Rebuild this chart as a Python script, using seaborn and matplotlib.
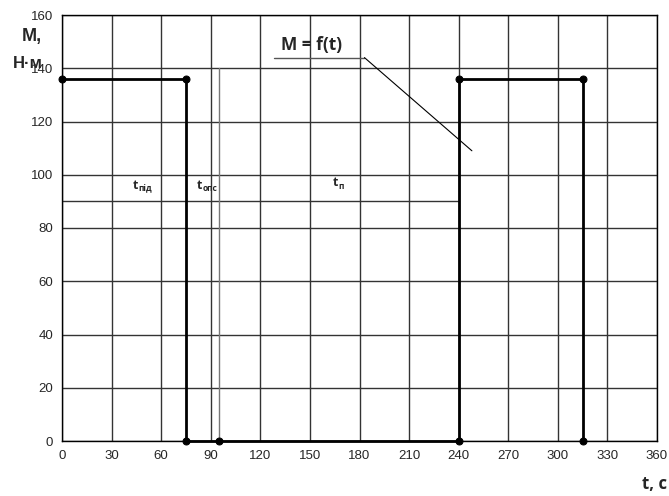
import matplotlib
matplotlib.use("Agg")
import matplotlib.pyplot as plt
import seaborn as sns
import pandas as pd

# load diagram M = f(t)
t_points = [0, 75, 75, 95, 240, 240, 315, 315]
m_points = [136, 136, 0, 0, 0, 136, 136, 0]

x_ticks = list(range(0, 361, 30))
y_ticks = list(range(0, 161, 20))

# helper lines of the drawing
dim_line_t = [0, 240]
dim_line_m = [90, 90]
mark_line_t = [95, 95]
mark_line_m = [0, 140]
leader_t = [128, 183, 248]
leader_m = [144, 144, 109]

interval_labels = [("t", "під", 43, 93.5), ("t", "опс", 81.5, 93.5), ("t", "п", 164, 94.5)]

sns.set_style("white")
plt.rcParams['font.family'] = ['Liberation Sans', 'DejaVu Sans']

fig = plt.figure(figsize=(6.69, 4.96), dpi=100)
ax = fig.add_axes([62 / 669, 1 - 441 / 496, 595 / 669, 426 / 496])

df = pd.DataFrame({'t': t_points, 'M': m_points})
sns.lineplot(data=df, x='t', y='M', sort=False, estimator=None, color='black', linewidth=2,
             marker='o', markersize=5, markeredgecolor='black', ax=ax, zorder=5)
for ln in ax.lines:
    ln.set_clip_on(False)

ax.set_xlim(0, 360)
ax.set_ylim(0, 160)
ax.set_xticks(x_ticks)
ax.set_yticks(y_ticks)
ax.tick_params(labelsize=9.5, length=3, direction='out', color='black')
ax.grid(True, color='#333333', linewidth=1)
for s in ax.spines.values():
    s.set_color('black')
    s.set_linewidth(1)
ax.set_xlabel('')
ax.set_ylabel('')

ax.plot(dim_line_t, dim_line_m, color='#333333', linewidth=1)
ax.plot(mark_line_t, mark_line_m, color='#777777', linewidth=1)
ax.plot(leader_t[:2], leader_m[:2], color='#555555', linewidth=1)
ax.plot(leader_t[1:], leader_m[1:], color='black', linewidth=0.8)

ax.text(151, 145.5, 'M = f(t)', fontsize=12.5, fontweight='bold', ha='center', va='bottom',
        family=['Open Sans', 'DejaVu Sans'])

for main, sub, tx, my in interval_labels:
    ax.text(tx, my, main, fontsize=9, fontweight='bold', ha='left', va='bottom',
            family=['Open Sans', 'DejaVu Sans'])
    ax.annotate(sub, (tx, my), xytext=(4, -1), textcoords='offset points',
                fontsize=6, fontweight='bold', ha='left', va='bottom',
                family=['Open Sans', 'DejaVu Sans'])

fig.text(32 / 669, 1 - 36 / 496, 'M,', fontsize=13, fontweight='bold', ha='center', va='center')
fig.text(28 / 669, 1 - 64 / 496, 'Н·м', fontsize=12, fontweight='bold', ha='center', va='center')
fig.text(655 / 669, 1 - 484 / 496, 't, c', fontsize=12, fontweight='bold', ha='center', va='center',
         family=['Open Sans', 'DejaVu Sans'])

fig.savefig('out.png', dpi=100)
